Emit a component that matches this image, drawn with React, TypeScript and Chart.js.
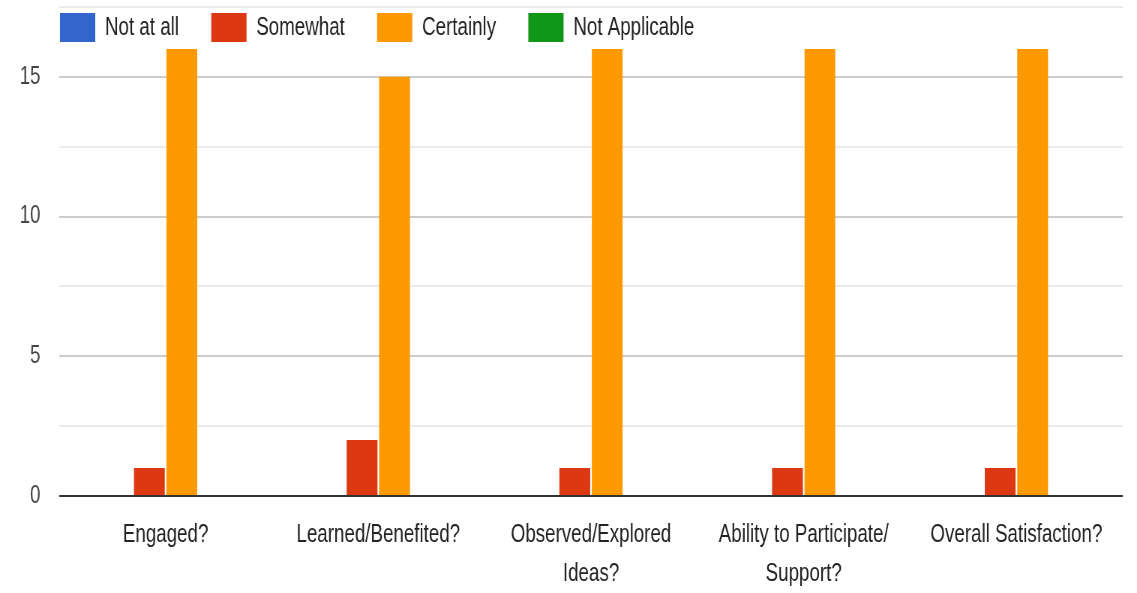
import React, { useEffect, useRef } from "react";
import { Chart, registerables } from "chart.js";

Chart.register(...registerables);

const categories: (string | string[])[] = [
  "Engaged?",
  "Learned/Benefited?",
  ["Observed/Explored", "Ideas?"],
  ["Ability to Participate/", "Support?"],
  "Overall Satisfaction?",
];
const seriesNames = ["Not at all", "Somewhat", "Certainly", "Not Applicable"];
const notAtAll = [0, 0, 0, 0, 0];
const somewhat = [1, 2, 1, 1, 1];
const certainly = [16, 15, 16, 16, 16];
const notApplicable = [0, 0, 0, 0, 0];
const seriesColors = ["#3366cc", "#dc3912", "#ff9900", "#109618"];
const yMax = 17.5;
const yStep = 2.5;
const yLabelEvery = 5;

const FONT = "'Liberation Sans', Arial, sans-serif";
// The reference image is horizontally condensed; draw wider and squeeze via CSS.
const SQUEEZE = 0.75;
const OUT_W = 1137;
const OUT_H = 593;
const IN_W = Math.round(OUT_W / SQUEEZE);

const legendPlugin = {
  id: "topLegend",
  afterDraw(chart: any) {
    const ctx = chart.ctx;
    const area = chart.chartArea;
    ctx.save();
    ctx.font = `25px ${FONT}`;
    ctx.textBaseline = "middle";
    ctx.textAlign = "left";
    let x = area.left + 1;
    const y = 13;
    const bw = 47;
    const bh = 29;
    chart.data.datasets.forEach((ds: any) => {
      ctx.fillStyle = ds.backgroundColor;
      ctx.fillRect(x, y, bw, bh);
      x += bw + 13;
      ctx.fillStyle = "#222222";
      ctx.fillText(ds.label, x, y + bh / 2 + 1);
      x += ctx.measureText(ds.label).width + 43;
    });
    ctx.restore();
  },
};

const baselinePlugin = {
  id: "baseline",
  afterDatasetsDraw(chart: any) {
    const ctx = chart.ctx;
    const area = chart.chartArea;
    const y = chart.scales.y.getPixelForValue(0);
    ctx.save();
    ctx.strokeStyle = "#333333";
    ctx.lineWidth = 2;
    ctx.beginPath();
    ctx.moveTo(area.left, y);
    ctx.lineTo(area.right, y);
    ctx.stroke();
    ctx.restore();
  },
};

export default function App() {
  const ref = useRef<HTMLCanvasElement | null>(null);

  useEffect(() => {
    document.body.style.margin = "0";
    if (!ref.current) return;
    const values = [notAtAll, somewhat, certainly, notApplicable];
    const chart = new Chart(ref.current, {
      type: "bar",
      data: {
        labels: categories,
        datasets: seriesNames.map((name, i) => ({
          label: name,
          data: values[i],
          backgroundColor: seriesColors[i],
          borderWidth: 0,
          categoryPercentage: 0.61,
          barPercentage: 0.95,
        })),
      },
      plugins: [legendPlugin, baselinePlugin],
      options: {
        responsive: false,
        animation: false,
        devicePixelRatio: 1,
        layout: { padding: { left: 0, right: 19, top: 7, bottom: 0 } },
        plugins: {
          legend: { display: false },
          tooltip: { enabled: false },
        },
        scales: {
          x: {
            grid: { display: false },
            border: { display: false },
            ticks: {
              color: "#222222",
              font: { family: FONT, size: 25, lineHeight: 1.56 },
              padding: 12,
              maxRotation: 0,
              autoSkip: false,
            },
            afterFit: (scale: any) => {
              scale.height = 97;
              scale.paddingLeft = 0;
              scale.paddingRight = 0;
            },
          },
          y: {
            min: 0,
            max: yMax,
            border: { display: false },
            grid: {
              drawTicks: false,
              color: (c: any) =>
                c.tick && c.tick.value % yLabelEvery === 0 ? "#cccccc" : "#ebebeb",
              lineWidth: 2,
            },
            ticks: {
              stepSize: yStep,
              color: "#444444",
              padding: 25,
              font: { family: FONT, size: 25 },
              callback: (v: any) => (Number(v) % yLabelEvery === 0 ? String(v) : ""),
            },
            afterFit: (scale: any) => {
              scale.width = 79;
              scale.paddingTop = 0;
              scale.paddingBottom = 0;
            },
          },
        },
      },
    });
    return () => chart.destroy();
  }, []);

  return (
    <div style={{ width: OUT_W, height: OUT_H, background: "#ffffff", overflow: "hidden" }}>
      <canvas
        ref={ref}
        width={IN_W}
        height={OUT_H}
        style={{ width: OUT_W + "px", height: OUT_H + "px", display: "block" }}
      />
    </div>
  );
}
